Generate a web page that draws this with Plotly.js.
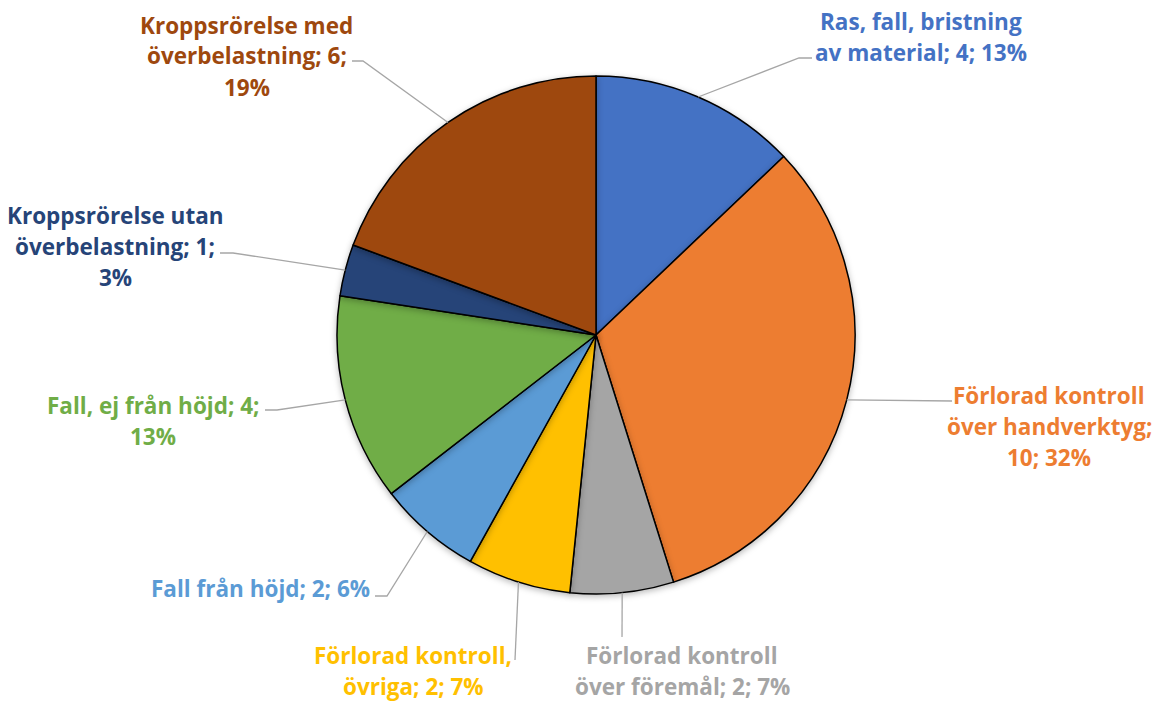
<!DOCTYPE html>
<html>
<head>
<meta charset="utf-8">
<script src="https://cdn.plot.ly/plotly-3.0.1.min.js"></script>
<style>
  html, body { margin: 0; padding: 0; background: #fff; }
  #chart { width: 1161px; height: 706px; }
  .pielayer path.surface { filter: drop-shadow(0px 2px 3px rgba(0,0,0,0.28)); }
</style>
</head>
<body>
<div id="chart"></div>
<script>
// ---- data ----
const categories = [
  "Ras, fall, bristning av material",
  "Förlorad kontroll över handverktyg",
  "Förlorad kontroll över föremål",
  "Förlorad kontroll, övriga",
  "Fall från höjd",
  "Fall, ej från höjd",
  "Kroppsrörelse utan överbelastning",
  "Kroppsrörelse med överbelastning"
];
const values = [4, 10, 2, 2, 2, 4, 1, 6];
const percentLabels = ["13%", "32%", "7%", "7%", "6%", "13%", "3%", "19%"];
const colors = ["#4472C4", "#ED7D31", "#A5A5A5", "#FFC000", "#5B9BD5", "#70AD47", "#264478", "#9E480E"];

// ---- layout config (pixels) ----
const W = 1161, H = 706;
const pieCenter = [596, 335], pieRadius = 259;
const wrapChars = [20, 17, 19, 18, 22, 22, 18, 18];
const labelCenters = [[921, 37], [1049, 426], [682, 670.5], [413, 670.5], [260, 588], [153, 420.5], [115, 246], [247, 56]];
const leaderEnds = [[812, 58], [952, 401], [622, 637], [515, 660], [375, 596], [265, 410], [220, 253], [352, 61]];
const leaderElbow = [-13, 0, 0, 0, 12, 12, 13, 11];
const lineHeight = 31;
const fontFamily = "'Open Sans', Lato, sans-serif";
const fontSize = 22.5;

function wrap(text, max) {
  const words = text.split(" ");
  const lines = [];
  let cur = "";
  for (const w of words) {
    const t = cur ? cur + " " + w : w;
    if (t.length > max && cur) { lines.push(cur); cur = w; } else { cur = t; }
  }
  if (cur) lines.push(cur);
  return lines;
}
const px = x => x / W;
const py = y => 1 - y / H;

const total = values.reduce((a, b) => a + b, 0);
const annotations = [];
const shapes = [];
let cum = 0;
values.forEach((v, i) => {
  const mid = (cum + v / 2) / total * 2 * Math.PI;
  cum += v;
  const sx = pieCenter[0] + pieRadius * Math.sin(mid);
  const sy = pieCenter[1] - pieRadius * Math.cos(mid);
  const [ex, ey] = leaderEnds[i];
  const pts = [[sx, sy]];
  if (leaderElbow[i]) pts.push([ex + leaderElbow[i], ey]);
  pts.push([ex, ey]);
  const path = pts.map((p, k) => (k ? "L" : "M") + px(p[0]).toFixed(5) + "," + py(p[1]).toFixed(5)).join(" ");
  shapes.push({ type: "path", xref: "paper", yref: "paper", path: path, line: { color: "#A6A6A6", width: 1.3 } });

  const lines = wrap(`${categories[i]}; ${v}; ${percentLabels[i]}`, wrapChars[i]);
  const [cx, cy] = labelCenters[i];
  lines.forEach((ln, k) => {
    const y = cy + (k - (lines.length - 1) / 2) * lineHeight;
    annotations.push({
      xref: "paper", yref: "paper", x: px(cx), y: py(y),
      xanchor: "center", yanchor: "middle", showarrow: false,
      text: "<b>" + ln + "</b>",
      font: { family: fontFamily, size: fontSize, color: colors[i] }
    });
  });
});

const trace = {
  type: "pie",
  labels: categories,
  values: values,
  sort: false,
  direction: "clockwise",
  rotation: 0,
  textinfo: "none",
  hoverinfo: "label+value+percent",
  marker: { colors: colors, line: { color: "#000000", width: 1.5 } },
  domain: {
    x: [px(pieCenter[0] - pieRadius), px(pieCenter[0] + pieRadius)],
    y: [py(pieCenter[1] + pieRadius), py(pieCenter[1] - pieRadius)]
  }
};

Plotly.newPlot("chart", [trace], {
  width: W, height: H,
  margin: { l: 0, r: 0, t: 0, b: 0 },
  showlegend: false,
  paper_bgcolor: "#ffffff",
  annotations: annotations,
  shapes: shapes
}, { displayModeBar: false, staticPlot: true });
</script>
</body>
</html>
